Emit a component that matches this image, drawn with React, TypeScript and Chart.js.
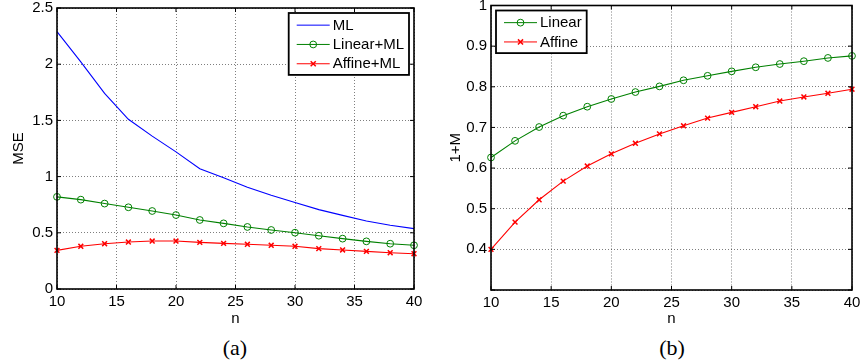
import React, { useEffect, useRef } from 'react';
import { Chart, registerables } from 'chart.js';

Chart.register(...registerables);

// ---------- data ----------
const nValues = [10, 12, 14, 16, 18, 20, 22, 24, 26, 28, 30, 32, 34, 36, 38, 40];

const mseML = [2.29, 2.02, 1.74, 1.51, 1.36, 1.22, 1.07, 0.99, 0.905, 0.834, 0.77, 0.706, 0.655, 0.605, 0.567, 0.537];
const mseLinearML = [0.82, 0.795, 0.76, 0.727, 0.694, 0.658, 0.614, 0.584, 0.552, 0.525, 0.501, 0.474, 0.448, 0.424, 0.403, 0.389];
const mseAffineML = [0.344, 0.38, 0.403, 0.418, 0.427, 0.427, 0.415, 0.406, 0.398, 0.389, 0.38, 0.359, 0.347, 0.335, 0.323, 0.314];

const oneMLinear = [0.626, 0.667, 0.701, 0.729, 0.751, 0.77, 0.787, 0.801, 0.816, 0.827, 0.838, 0.848, 0.856, 0.863, 0.871, 0.876];
const oneMAffine = [0.4, 0.467, 0.522, 0.568, 0.605, 0.635, 0.661, 0.684, 0.704, 0.723, 0.737, 0.751, 0.765, 0.775, 0.784, 0.794];

const xTicks = [10, 15, 20, 25, 30, 35, 40];
const yTicksA = [0, 0.5, 1, 1.5, 2, 2.5];
const yTicksB = [0.3, 0.4, 0.5, 0.6, 0.7, 0.8, 0.9, 1];
const yLabelsB = ['', '0.4', '0.5', '0.6', '0.7', '0.8', '0.9', '1'];

const labelsA = ['ML', 'Linear+ML', 'Affine+ML'];
const labelsB = ['Linear', 'Affine'];

// ---------- styling ----------
const FONT = '"Liberation Sans", Arial, Helvetica, sans-serif';
const BLUE = '#0000ff';
const GREEN = '#008000';
const RED = '#ff0000';

const toPoints = (ys: number[]) => nValues.map((n, i) => ({ x: n, y: ys[i] }));

const framePlugin = {
  id: 'matlabFrame',
  afterDraw(chart: any, _args: any, opts: any) {
    const { ctx, chartArea: a, scales } = chart;
    ctx.save();
    // inward ticks
    ctx.strokeStyle = '#000';
    ctx.lineWidth = 1;
    const tl = 4;
    ctx.beginPath();
    for (const v of opts.xTicks) {
      const x = scales.x.getPixelForValue(v);
      ctx.moveTo(x, a.bottom);
      ctx.lineTo(x, a.bottom - tl);
      ctx.moveTo(x, a.top);
      ctx.lineTo(x, a.top + tl);
    }
    for (const v of opts.yTicks) {
      const y = scales.y.getPixelForValue(v);
      ctx.moveTo(a.left, y);
      ctx.lineTo(a.left + tl, y);
      ctx.moveTo(a.right, y);
      ctx.lineTo(a.right - tl, y);
    }
    ctx.stroke();
    // box
    ctx.lineWidth = 1.6;
    ctx.strokeRect(a.left, a.top, a.right - a.left, a.bottom - a.top);

    // legend
    const ds = chart.data.datasets;
    ctx.font = `15px ${FONT}`;
    const textW = Math.max(...ds.map((d: any) => ctx.measureText(d.label).width));
    const padL = 8;
    const sample = 33;
    const gap = 3;
    const padR = 5;
    const rowH = 19.3;
    const boxW = padL + sample + gap + textW + padR;
    const boxH = ds.length * rowH + 4;
    const bx = opts.corner === 'ne' ? a.right - 5 - boxW : a.left + 5;
    const by = a.top + 5;
    ctx.fillStyle = '#fff';
    ctx.fillRect(bx, by, boxW, boxH);
    ctx.lineWidth = 1.8;
    ctx.strokeStyle = '#000';
    ctx.strokeRect(bx, by, boxW, boxH);
    ds.forEach((d: any, i: number) => {
      const cy = by + 2 + rowH * (i + 0.5) + 0.5;
      const x0 = bx + padL;
      ctx.strokeStyle = d.borderColor;
      ctx.lineWidth = 1;
      ctx.beginPath();
      ctx.moveTo(x0, cy);
      ctx.lineTo(x0 + sample, cy);
      ctx.stroke();
      const cx = x0 + sample / 2;
      if (d.pointRadius > 0) {
        ctx.lineWidth = d.pointBorderWidth || 1;
        ctx.beginPath();
        if (d.pointStyle === 'circle') {
          ctx.arc(cx, cy, d.pointRadius, 0, Math.PI * 2);
        } else {
          const r = d.pointRadius * 0.75;
          ctx.moveTo(cx - r, cy - r);
          ctx.lineTo(cx + r, cy + r);
          ctx.moveTo(cx - r, cy + r);
          ctx.lineTo(cx + r, cy - r);
        }
        ctx.stroke();
      }
      ctx.fillStyle = '#000';
      ctx.textAlign = 'left';
      ctx.textBaseline = 'middle';
      ctx.fillText(d.label, x0 + sample + gap, cy + 0.5);
    });
    ctx.restore();
  },
};

const lineDs = (label: string, ys: number[], color: string, marker: 'none' | 'circle' | 'crossRot') => ({
  label,
  data: toPoints(ys),
  borderColor: color,
  backgroundColor: color,
  borderWidth: 1.1,
  pointStyle: marker === 'none' ? 'circle' : marker,
  pointRadius: marker === 'none' ? 0 : 3.4,
  pointBorderWidth: marker === 'circle' ? 1 : 1.5,
  pointBorderColor: color,
  pointBackgroundColor: 'rgba(0,0,0,0)',
  tension: 0,
  fill: false,
  clip: false,
});

const scaleCommon = {
  type: 'linear' as const,
  grid: { color: 'rgba(0,0,0,0.5)', lineWidth: 1, drawTicks: false, borderDash: [1, 2] },
  border: { display: false, dash: [1, 2] },
};

function makeConfig(
  datasets: any[],
  yMin: number,
  yMax: number,
  yTicks: number[],
  yLabels: string[] | null,
  yTitle: string,
  opt: { padTop: number; padRight: number; yWidth: number; xHeight: number; yTitlePad: number; corner: string }
): any {
  return {
    type: 'line',
    data: { datasets },
    options: {
      animation: false,
      responsive: false,
      events: [],
      layout: { padding: { top: opt.padTop, right: opt.padRight, left: 0, bottom: 0 } },
      plugins: {
        legend: { display: false },
        tooltip: { enabled: false },
        matlabFrame: { xTicks, yTicks, corner: opt.corner },
      },
      scales: {
        x: {
          ...scaleCommon,
          min: 10,
          max: 40,
          afterBuildTicks: (s: any) => {
            s.ticks = xTicks.map((v) => ({ value: v }));
          },
          afterFit: (s: any) => {
            s.height = opt.xHeight;
          },
          ticks: {
            color: '#000',
            font: { family: FONT, size: 15 },
            padding: 4,
            maxRotation: 0,
            autoSkip: false,
            callback: (v: number) => String(v),
          },
          title: {
            display: true,
            text: 'n',
            color: '#000',
            font: { family: FONT, size: 15 },
            padding: { top: 0, bottom: 2 },
          },
        },
        y: {
          ...scaleCommon,
          min: yMin,
          max: yMax,
          afterBuildTicks: (s: any) => {
            s.ticks = yTicks.map((v) => ({ value: v }));
          },
          afterFit: (s: any) => {
            s.width = opt.yWidth;
          },
          ticks: {
            color: '#000',
            font: { family: FONT, size: 15 },
            padding: 4,
            autoSkip: false,
            callback: (v: number, i: number) => (yLabels ? yLabels[i] : String(Number(v.toFixed(2)))),
          },
          title: {
            display: true,
            text: yTitle,
            color: '#000',
            font: { family: FONT, size: 15 },
            padding: { top: opt.yTitlePad, bottom: 0 },
          },
        },
      },
    },
    plugins: [framePlugin],
  };
}

function ChartCanvas({ config, left, top, width, height }: any) {
  const ref = useRef<HTMLCanvasElement>(null);
  useEffect(() => {
    if (!ref.current) return;
    const chart = new Chart(ref.current, config());
    return () => chart.destroy();
  }, []);
  return (
    <canvas
      ref={ref}
      width={width}
      height={height}
      style={{ position: 'absolute', left, top, width, height }}
    />
  );
}

export default function App() {
  const cfgA = () =>
    makeConfig(
      [
        lineDs(labelsA[0], mseML, BLUE, 'none'),
        lineDs(labelsA[1], mseLinearML, GREEN, 'circle'),
        lineDs(labelsA[2], mseAffineML, RED, 'crossRot'),
      ],
      0,
      2.5,
      yTicksA,
      null,
      'MSE',
      { padTop: 18, padRight: 16, yWidth: 57, xHeight: 41, yTitlePad: 10, corner: 'ne' }
    );
  const cfgB = () =>
    makeConfig(
      [lineDs(labelsB[0], oneMLinear, GREEN, 'circle'), lineDs(labelsB[1], oneMAffine, RED, 'crossRot')],
      0.3,
      1,
      yTicksB,
      yLabelsB,
      '1+M',
      { padTop: 15.5, padRight: 18, yWidth: 61, xHeight: 40, yTitlePad: 17, corner: 'nw' }
    );
  const captionStyle: React.CSSProperties = {
    position: 'absolute',
    top: 335,
    width: 100,
    textAlign: 'center',
    fontFamily: '"Liberation Serif", "Times New Roman", serif',
    fontSize: 22,
    lineHeight: '26px',
    color: '#000',
  };
  return (
    <div
      style={{
        position: 'absolute',
        left: 0,
        top: 0,
        width: 860,
        height: 364,
        overflow: 'hidden',
        background: '#fff',
      }}
    >
      <ChartCanvas config={cfgA} left={0} top={-10} width={430} height={340} />
      <ChartCanvas config={cfgB} left={430} top={-10} width={440} height={340} />
      <div style={{ ...captionStyle, left: 185 }}>(a)</div>
      <div style={{ ...captionStyle, left: 622 }}>(b)</div>
    </div>
  );
}
